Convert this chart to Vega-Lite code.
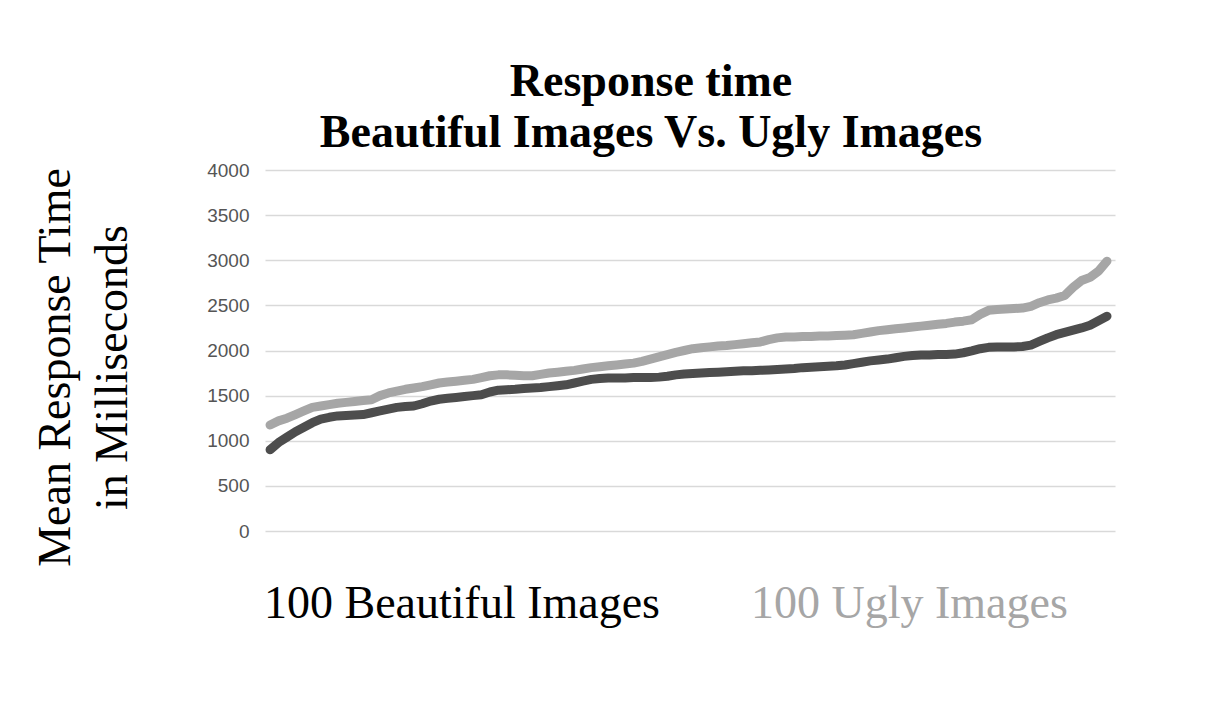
{
  "$schema": "https://vega.github.io/schema/vega-lite/v6.json",
  "autosize": "none",
  "width": 850,
  "height": 361,
  "padding": {"left": 265, "top": 170, "right": 90, "bottom": 193},
  "background": "white",
  "title": {
    "text": ["Response time", "Beautiful Images Vs. Ugly Images"],
    "font": "Liberation Serif",
    "fontSize": 46,
    "fontWeight": "bold",
    "color": "#000000",
    "lineHeight": 51,
    "anchor": "middle",
    "dx": -39,
    "offset": 4
  },
  "data": {"values": [
    {"i":1,"s":"100 Beautiful Images","ms":900},{"i":2,"s":"100 Beautiful Images","ms":980},{"i":3,"s":"100 Beautiful Images","ms":1040},{"i":4,"s":"100 Beautiful Images","ms":1100},{"i":5,"s":"100 Beautiful Images","ms":1150},
    {"i":6,"s":"100 Beautiful Images","ms":1200},{"i":7,"s":"100 Beautiful Images","ms":1240},{"i":8,"s":"100 Beautiful Images","ms":1260},{"i":9,"s":"100 Beautiful Images","ms":1275},{"i":10,"s":"100 Beautiful Images","ms":1280},
    {"i":11,"s":"100 Beautiful Images","ms":1285},{"i":12,"s":"100 Beautiful Images","ms":1290},{"i":13,"s":"100 Beautiful Images","ms":1310},{"i":14,"s":"100 Beautiful Images","ms":1330},{"i":15,"s":"100 Beautiful Images","ms":1350},
    {"i":16,"s":"100 Beautiful Images","ms":1370},{"i":17,"s":"100 Beautiful Images","ms":1380},{"i":18,"s":"100 Beautiful Images","ms":1385},{"i":19,"s":"100 Beautiful Images","ms":1410},{"i":20,"s":"100 Beautiful Images","ms":1440},
    {"i":21,"s":"100 Beautiful Images","ms":1460},{"i":22,"s":"100 Beautiful Images","ms":1470},{"i":23,"s":"100 Beautiful Images","ms":1480},{"i":24,"s":"100 Beautiful Images","ms":1490},{"i":25,"s":"100 Beautiful Images","ms":1500},
    {"i":26,"s":"100 Beautiful Images","ms":1510},{"i":27,"s":"100 Beautiful Images","ms":1540},{"i":28,"s":"100 Beautiful Images","ms":1560},{"i":29,"s":"100 Beautiful Images","ms":1565},{"i":30,"s":"100 Beautiful Images","ms":1570},
    {"i":31,"s":"100 Beautiful Images","ms":1580},{"i":32,"s":"100 Beautiful Images","ms":1585},{"i":33,"s":"100 Beautiful Images","ms":1590},{"i":34,"s":"100 Beautiful Images","ms":1600},{"i":35,"s":"100 Beautiful Images","ms":1610},
    {"i":36,"s":"100 Beautiful Images","ms":1620},{"i":37,"s":"100 Beautiful Images","ms":1640},{"i":38,"s":"100 Beautiful Images","ms":1660},{"i":39,"s":"100 Beautiful Images","ms":1680},{"i":40,"s":"100 Beautiful Images","ms":1690},
    {"i":41,"s":"100 Beautiful Images","ms":1695},{"i":42,"s":"100 Beautiful Images","ms":1695},{"i":43,"s":"100 Beautiful Images","ms":1695},{"i":44,"s":"100 Beautiful Images","ms":1700},{"i":45,"s":"100 Beautiful Images","ms":1700},
    {"i":46,"s":"100 Beautiful Images","ms":1700},{"i":47,"s":"100 Beautiful Images","ms":1705},{"i":48,"s":"100 Beautiful Images","ms":1715},{"i":49,"s":"100 Beautiful Images","ms":1730},{"i":50,"s":"100 Beautiful Images","ms":1740},
    {"i":51,"s":"100 Beautiful Images","ms":1745},{"i":52,"s":"100 Beautiful Images","ms":1750},{"i":53,"s":"100 Beautiful Images","ms":1755},{"i":54,"s":"100 Beautiful Images","ms":1760},{"i":55,"s":"100 Beautiful Images","ms":1765},
    {"i":56,"s":"100 Beautiful Images","ms":1770},{"i":57,"s":"100 Beautiful Images","ms":1775},{"i":58,"s":"100 Beautiful Images","ms":1775},{"i":59,"s":"100 Beautiful Images","ms":1780},{"i":60,"s":"100 Beautiful Images","ms":1785},
    {"i":61,"s":"100 Beautiful Images","ms":1790},{"i":62,"s":"100 Beautiful Images","ms":1795},{"i":63,"s":"100 Beautiful Images","ms":1800},{"i":64,"s":"100 Beautiful Images","ms":1810},{"i":65,"s":"100 Beautiful Images","ms":1815},
    {"i":66,"s":"100 Beautiful Images","ms":1820},{"i":67,"s":"100 Beautiful Images","ms":1825},{"i":68,"s":"100 Beautiful Images","ms":1830},{"i":69,"s":"100 Beautiful Images","ms":1840},{"i":70,"s":"100 Beautiful Images","ms":1855},
    {"i":71,"s":"100 Beautiful Images","ms":1870},{"i":72,"s":"100 Beautiful Images","ms":1885},{"i":73,"s":"100 Beautiful Images","ms":1895},{"i":74,"s":"100 Beautiful Images","ms":1905},{"i":75,"s":"100 Beautiful Images","ms":1920},
    {"i":76,"s":"100 Beautiful Images","ms":1935},{"i":77,"s":"100 Beautiful Images","ms":1945},{"i":78,"s":"100 Beautiful Images","ms":1950},{"i":79,"s":"100 Beautiful Images","ms":1950},{"i":80,"s":"100 Beautiful Images","ms":1955},
    {"i":81,"s":"100 Beautiful Images","ms":1955},{"i":82,"s":"100 Beautiful Images","ms":1960},{"i":83,"s":"100 Beautiful Images","ms":1975},{"i":84,"s":"100 Beautiful Images","ms":1995},{"i":85,"s":"100 Beautiful Images","ms":2020},
    {"i":86,"s":"100 Beautiful Images","ms":2035},{"i":87,"s":"100 Beautiful Images","ms":2040},{"i":88,"s":"100 Beautiful Images","ms":2040},{"i":89,"s":"100 Beautiful Images","ms":2040},{"i":90,"s":"100 Beautiful Images","ms":2045},
    {"i":91,"s":"100 Beautiful Images","ms":2060},{"i":92,"s":"100 Beautiful Images","ms":2100},{"i":93,"s":"100 Beautiful Images","ms":2140},{"i":94,"s":"100 Beautiful Images","ms":2175},{"i":95,"s":"100 Beautiful Images","ms":2200},
    {"i":96,"s":"100 Beautiful Images","ms":2225},{"i":97,"s":"100 Beautiful Images","ms":2250},{"i":98,"s":"100 Beautiful Images","ms":2280},{"i":99,"s":"100 Beautiful Images","ms":2330},{"i":100,"s":"100 Beautiful Images","ms":2380},
    {"i":1,"s":"100 Ugly Images","ms":1175},{"i":2,"s":"100 Ugly Images","ms":1220},{"i":3,"s":"100 Ugly Images","ms":1250},{"i":4,"s":"100 Ugly Images","ms":1290},{"i":5,"s":"100 Ugly Images","ms":1330},
    {"i":6,"s":"100 Ugly Images","ms":1370},{"i":7,"s":"100 Ugly Images","ms":1385},{"i":8,"s":"100 Ugly Images","ms":1400},{"i":9,"s":"100 Ugly Images","ms":1415},{"i":10,"s":"100 Ugly Images","ms":1425},
    {"i":11,"s":"100 Ugly Images","ms":1435},{"i":12,"s":"100 Ugly Images","ms":1445},{"i":13,"s":"100 Ugly Images","ms":1455},{"i":14,"s":"100 Ugly Images","ms":1500},{"i":15,"s":"100 Ugly Images","ms":1530},
    {"i":16,"s":"100 Ugly Images","ms":1550},{"i":17,"s":"100 Ugly Images","ms":1570},{"i":18,"s":"100 Ugly Images","ms":1585},{"i":19,"s":"100 Ugly Images","ms":1600},{"i":20,"s":"100 Ugly Images","ms":1620},
    {"i":21,"s":"100 Ugly Images","ms":1640},{"i":22,"s":"100 Ugly Images","ms":1650},{"i":23,"s":"100 Ugly Images","ms":1660},{"i":24,"s":"100 Ugly Images","ms":1670},{"i":25,"s":"100 Ugly Images","ms":1680},
    {"i":26,"s":"100 Ugly Images","ms":1700},{"i":27,"s":"100 Ugly Images","ms":1720},{"i":28,"s":"100 Ugly Images","ms":1730},{"i":29,"s":"100 Ugly Images","ms":1730},{"i":30,"s":"100 Ugly Images","ms":1725},
    {"i":31,"s":"100 Ugly Images","ms":1720},{"i":32,"s":"100 Ugly Images","ms":1720},{"i":33,"s":"100 Ugly Images","ms":1735},{"i":34,"s":"100 Ugly Images","ms":1750},{"i":35,"s":"100 Ugly Images","ms":1760},
    {"i":36,"s":"100 Ugly Images","ms":1770},{"i":37,"s":"100 Ugly Images","ms":1780},{"i":38,"s":"100 Ugly Images","ms":1795},{"i":39,"s":"100 Ugly Images","ms":1810},{"i":40,"s":"100 Ugly Images","ms":1820},
    {"i":41,"s":"100 Ugly Images","ms":1830},{"i":42,"s":"100 Ugly Images","ms":1840},{"i":43,"s":"100 Ugly Images","ms":1850},{"i":44,"s":"100 Ugly Images","ms":1860},{"i":45,"s":"100 Ugly Images","ms":1880},
    {"i":46,"s":"100 Ugly Images","ms":1905},{"i":47,"s":"100 Ugly Images","ms":1930},{"i":48,"s":"100 Ugly Images","ms":1955},{"i":49,"s":"100 Ugly Images","ms":1980},{"i":50,"s":"100 Ugly Images","ms":2000},
    {"i":51,"s":"100 Ugly Images","ms":2020},{"i":52,"s":"100 Ugly Images","ms":2030},{"i":53,"s":"100 Ugly Images","ms":2040},{"i":54,"s":"100 Ugly Images","ms":2050},{"i":55,"s":"100 Ugly Images","ms":2055},
    {"i":56,"s":"100 Ugly Images","ms":2065},{"i":57,"s":"100 Ugly Images","ms":2075},{"i":58,"s":"100 Ugly Images","ms":2085},{"i":59,"s":"100 Ugly Images","ms":2095},{"i":60,"s":"100 Ugly Images","ms":2120},
    {"i":61,"s":"100 Ugly Images","ms":2140},{"i":62,"s":"100 Ugly Images","ms":2150},{"i":63,"s":"100 Ugly Images","ms":2150},{"i":64,"s":"100 Ugly Images","ms":2155},{"i":65,"s":"100 Ugly Images","ms":2155},
    {"i":66,"s":"100 Ugly Images","ms":2160},{"i":67,"s":"100 Ugly Images","ms":2160},{"i":68,"s":"100 Ugly Images","ms":2165},{"i":69,"s":"100 Ugly Images","ms":2170},{"i":70,"s":"100 Ugly Images","ms":2175},
    {"i":71,"s":"100 Ugly Images","ms":2190},{"i":72,"s":"100 Ugly Images","ms":2205},{"i":73,"s":"100 Ugly Images","ms":2220},{"i":74,"s":"100 Ugly Images","ms":2230},{"i":75,"s":"100 Ugly Images","ms":2240},
    {"i":76,"s":"100 Ugly Images","ms":2250},{"i":77,"s":"100 Ugly Images","ms":2260},{"i":78,"s":"100 Ugly Images","ms":2270},{"i":79,"s":"100 Ugly Images","ms":2280},{"i":80,"s":"100 Ugly Images","ms":2290},
    {"i":81,"s":"100 Ugly Images","ms":2300},{"i":82,"s":"100 Ugly Images","ms":2315},{"i":83,"s":"100 Ugly Images","ms":2325},{"i":84,"s":"100 Ugly Images","ms":2340},{"i":85,"s":"100 Ugly Images","ms":2400},
    {"i":86,"s":"100 Ugly Images","ms":2445},{"i":87,"s":"100 Ugly Images","ms":2455},{"i":88,"s":"100 Ugly Images","ms":2460},{"i":89,"s":"100 Ugly Images","ms":2465},{"i":90,"s":"100 Ugly Images","ms":2470},
    {"i":91,"s":"100 Ugly Images","ms":2490},{"i":92,"s":"100 Ugly Images","ms":2530},{"i":93,"s":"100 Ugly Images","ms":2560},{"i":94,"s":"100 Ugly Images","ms":2580},{"i":95,"s":"100 Ugly Images","ms":2610},
    {"i":96,"s":"100 Ugly Images","ms":2700},{"i":97,"s":"100 Ugly Images","ms":2775},{"i":98,"s":"100 Ugly Images","ms":2810},{"i":99,"s":"100 Ugly Images","ms":2880},{"i":100,"s":"100 Ugly Images","ms":2990}
  ]},
  "mark": {"type": "line", "strokeWidth": 9, "strokeCap": "round", "strokeJoin": "round"},
  "encoding": {
    "x": {
      "field": "i", "type": "quantitative",
      "scale": {"domain": [0.4, 100.95], "nice": false, "zero": false},
      "axis": null
    },
    "y": {
      "field": "ms", "type": "quantitative",
      "scale": {"domain": [0, 4000], "nice": false},
      "axis": {
        "values": [0, 500, 1000, 1500, 2000, 2500, 3000, 3500, 4000],
        "format": "d",
        "title": ["Mean Response Time", "in Milliseconds"],
        "titleFont": "Liberation Serif",
        "titleFontSize": 46,
        "titleFontWeight": "normal",
        "titleColor": "#000000",
        "titleLineHeight": 57,
        "titlePadding": 70,
        "titleY": 197,
        "labelFont": "Liberation Sans",
        "labelFontSize": 19,
        "labelColor": "#555555",
        "labelPadding": 16,
        "domain": false,
        "ticks": false,
        "grid": true,
        "gridColor": "#d9d9d9",
        "gridWidth": 1.5
      }
    },
    "color": {
      "field": "s", "type": "nominal",
      "scale": {"domain": ["100 Beautiful Images", "100 Ugly Images"], "range": ["#4d4d4d", "#a6a6a6"]},
      "legend": {
        "title": null,
        "orient": "bottom",
        "direction": "horizontal",
        "offset": 50,
        "symbolSize": 0,
        "symbolOpacity": 0,
        "symbolStrokeWidth": 0,
        "labelOffset": -47,
        "labelFont": "Liberation Serif",
        "labelFontSize": 46,
        "labelLimit": 0,
        "columnPadding": 90,
        "encode": {"labels": {"update": {"fill": {"signal": "datum.value === '100 Ugly Images' ? '#a6a6a6' : '#000000'"}}}}
      }
    }
  },
  "config": {"view": {"stroke": null}}
}
